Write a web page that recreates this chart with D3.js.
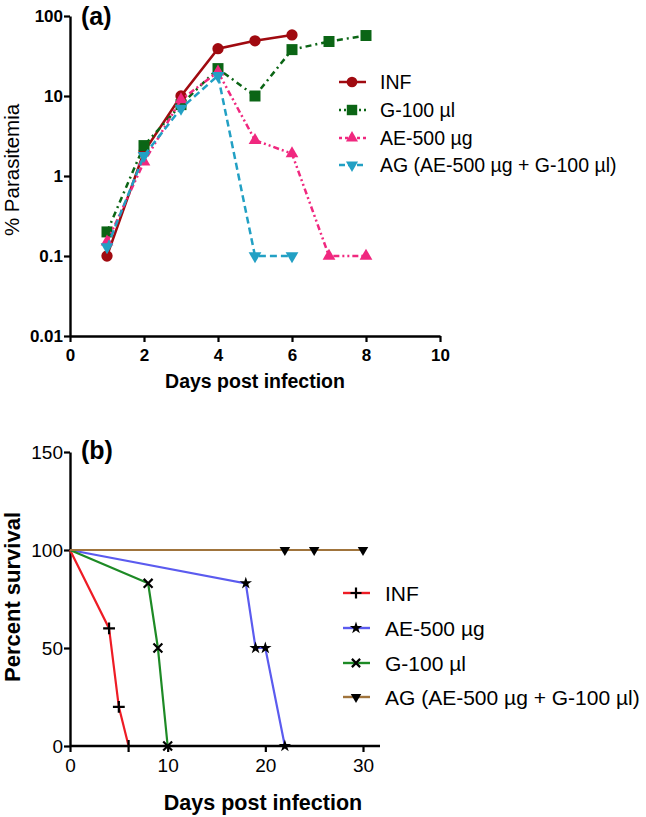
<!DOCTYPE html>
<html><head><meta charset="utf-8">
<script src="https://cdn.jsdelivr.net/npm/d3@7"></script>
<style>body{margin:0;background:#fff}svg{display:block}text{font-family:Arial,"Liberation Sans",sans-serif}</style>
</head><body>
<script>
// Panel (a) data
const daysA = [1,2,3,4,5,6,7,8];
const infA = [0.1,2.0,10,39,49,58];
const g100A = [0.2,2.4,7.8,22,10,38,48,57];
const ae500A = [0.15,1.5,9,20,2.8,1.9,0.1,0.1];
const agA = [0.13,1.8,7,18,0.1,0.1];
const yTicksA = [0.01,0.1,1,10,100];
const yTickLabelsA = ["0.01","0.1","1","10","100"];
const xTicksA = [0,2,4,6,8,10];

// Panel (b) data
const infB_days = [0,4,5,6], infB_surv = [100,60,20,0];
const aeB_days = [0,18,19,20,22], aeB_surv = [100,83,50,50,0];
const gB_days = [0,8,9,10], gB_surv = [100,83,50,0];
const agB_days = [0,22,25,30], agB_surv = [100,100,100,100];
const yTicksB = [0,50,100,150];
const xTicksB = [0,10,20,30];

const W=646,H=817;
const svg=d3.select("body").append("svg").attr("width",W).attr("height",H);

// ---------- Panel A ----------
const xA=d3.scaleLinear().domain([0,10]).range([70,440]);
const yA=d3.scaleLog().domain([0.01,100]).range([336,16]);
const gA=svg.append("g");
const axA_y=gA.append("g").attr("transform","translate(70,0)")
  .call(d3.axisLeft(yA).tickValues(yTicksA).tickFormat((d,i)=>yTickLabelsA[i]).tickSize(6).tickSizeOuter(0));
const axA_x=gA.append("g").attr("transform","translate(0,336)")
  .call(d3.axisBottom(xA).tickValues(xTicksA).tickFormat(d3.format("d")).tickSize(6).tickSizeOuter(0));
[axA_y,axA_x].forEach(a=>{a.select(".domain").attr("stroke","#000").attr("stroke-width",2.4);
  a.selectAll(".tick line").attr("stroke","#000").attr("stroke-width",2.2);
  a.selectAll("text").attr("font-size",17).attr("font-weight","bold").attr("fill","#000");});
axA_y.selectAll("text").attr("x",-7);
axA_x.selectAll("text").attr("y",13);
gA.append("text").attr("transform","translate(19,170) rotate(-90)").attr("text-anchor","middle")
  .attr("font-size",20.5).text("% Parasitemia");
gA.append("text").attr("x",255).attr("y",388).attr("text-anchor","middle")
  .attr("font-size",19.5).attr("font-weight","bold").text("Days post infection");
gA.append("text").attr("x",81).attr("y",25).attr("font-size",25).attr("font-weight","bold").text("(a)");

const seriesA=[
 {name:"INF",vals:infA,color:"#a00a10",dash:null,ldash:null,sym:d3.symbolCircle,size:100,rot:0},
 {name:"G-100 µl",vals:g100A,color:"#0b6515",dash:"6,4,2,4",ldash:"2,3",sym:d3.symbolSquare,size:121,rot:0},
 {name:"AE-500 µg",vals:ae500A,color:"#f0287f",dash:"6,3,2,3,2,3",ldash:"3,3",sym:d3.symbolTriangle,size:70,rot:0},
 {name:"AG (AE-500 µg + G-100 µl)",vals:agA,color:"#22a0c4",dash:"7,4",ldash:"6,3",sym:d3.symbolTriangle,size:70,rot:180}
];
const lineA=d3.line().x(d=>xA(d[0])).y(d=>yA(d[1]));
seriesA.forEach(s=>{
  const pts=s.vals.map((v,i)=>[daysA[i],v]);
  gA.append("path").attr("d",lineA(pts)).attr("fill","none").attr("stroke",s.color)
    .attr("stroke-width",2.5).attr("stroke-dasharray",s.dash);
  gA.selectAll(null).data(pts).enter().append("path")
    .attr("d",d3.symbol(s.sym,s.size)())
    .attr("transform",d=>`translate(${xA(d[0])},${yA(d[1])}) rotate(${s.rot})`)
    .attr("fill",s.color);
});
// legend A
const legA=gA.append("g");
const legAy=[82,110,138,165];
seriesA.forEach((s,i)=>{
  const y=legAy[i];
  legA.append("line").attr("x1",339).attr("x2",366).attr("y1",y).attr("y2",y)
    .attr("stroke",s.color).attr("stroke-width",2.5).attr("stroke-dasharray",s.ldash);
  legA.append("path").attr("d",d3.symbol(s.sym,s.size*0.9)())
    .attr("transform",`translate(352,${y}) rotate(${s.rot})`).attr("fill",s.color);
  legA.append("text").attr("x",380).attr("y",y+7).attr("font-size",19.5).attr("fill","#000").text(s.name);
});

// ---------- Panel B ----------
const xB=d3.scaleLinear().domain([0,30]).range([70,363]);
const yB=d3.scaleLinear().domain([0,150]).range([746,452]);
const gB=svg.append("g");
const axB_y=gB.append("g").attr("transform","translate(70,0)")
  .call(d3.axisLeft(yB).tickValues(yTicksB).tickSize(6).tickSizeOuter(0));
const axB_x=gB.append("g").attr("transform","translate(0,746)")
  .call(d3.axisBottom(xB).tickValues(xTicksB).tickSize(6).tickSizeOuter(0));
axB_x.select(".domain").attr("d","M70,0H380");
[axB_y,axB_x].forEach(a=>{a.select(".domain").attr("stroke","#000").attr("stroke-width",2.4);
  a.selectAll(".tick line").attr("stroke","#000").attr("stroke-width",2.2);
  a.selectAll("text").attr("font-size",19).attr("fill","#000");});
axB_y.selectAll("text").attr("x",-7);
axB_x.selectAll("text").attr("y",13);
gB.append("text").attr("transform","translate(20,597) rotate(-90)").attr("text-anchor","middle")
  .attr("font-size",22).attr("font-weight","bold").text("Percent survival");
gB.append("text").attr("x",263).attr("y",810).attr("text-anchor","middle")
  .attr("font-size",21.5).attr("font-weight","bold").text("Days post infection");
gB.append("text").attr("x",81).attr("y",459).attr("font-size",25).attr("font-weight","bold").text("(b)");

const plusSym={draw(c,s){const r=Math.sqrt(s)/2;c.moveTo(-r,0);c.lineTo(r,0);c.moveTo(0,-r);c.lineTo(0,r);}};
const xSym={draw(c,s){const r=Math.sqrt(s)/2*0.75;c.moveTo(-r,-r);c.lineTo(r,r);c.moveTo(-r,r);c.lineTo(r,-r);}};
const seriesB=[
 {name:"INF",d:infB_days,s:infB_surv,color:"#ee1c25",sym:plusSym,stroke:true,mk:[1,2,3]},
 {name:"AE-500 µg",d:aeB_days,s:aeB_surv,color:"#5b5bef",sym:d3.symbolStar,stroke:false,mk:[1,2,3,4]},
 {name:"G-100 µl",d:gB_days,s:gB_surv,color:"#1d8a25",sym:xSym,stroke:true,mk:[1,2,3]},
 {name:"AG (AE-500 µg + G-100 µl)",d:agB_days,s:agB_surv,color:"#a0743c",sym:d3.symbolTriangle,stroke:false,mk:[1,2,3],rot:180}
];
const lineB=d3.line().x(d=>xB(d[0])).y(d=>yB(d[1]));
seriesB.forEach(s=>{
  const pts=s.d.map((v,i)=>[v,s.s[i]]);
  gB.append("path").attr("d",lineB(pts)).attr("fill","none").attr("stroke",s.color).attr("stroke-width",2.2);
});
seriesB.forEach(s=>{
  const pts=s.d.map((v,i)=>[v,s.s[i]]).filter((p,i)=>s.mk.includes(i));
  gB.selectAll(null).data(pts).enter().append("path")
    .attr("d",d3.symbol(s.sym,s.stroke?140:48)())
    .attr("transform",d=>`translate(${xB(d[0])},${yB(d[1])}) rotate(${s.rot||0})`)
    .attr("fill",s.stroke?"none":"#000").attr("stroke",s.stroke?"#000":null).attr("stroke-width",2.2);
});
const legBy=[593,628,663,697];
seriesB.forEach((s,i)=>{
  const y=legBy[i];
  gB.append("line").attr("x1",343).attr("x2",370).attr("y1",y).attr("y2",y).attr("stroke",s.color).attr("stroke-width",2.4);
  gB.append("path").attr("d",d3.symbol(s.sym,s.stroke?120:48)())
    .attr("transform",`translate(356,${y}) rotate(${s.rot||0})`)
    .attr("fill",s.stroke?"none":"#000").attr("stroke",s.stroke?"#000":null).attr("stroke-width",2.2);
  gB.append("text").attr("x",385).attr("y",y+7.5).attr("font-size",21).attr("fill","#000").text(s.name);
});
</script>
</body></html>
